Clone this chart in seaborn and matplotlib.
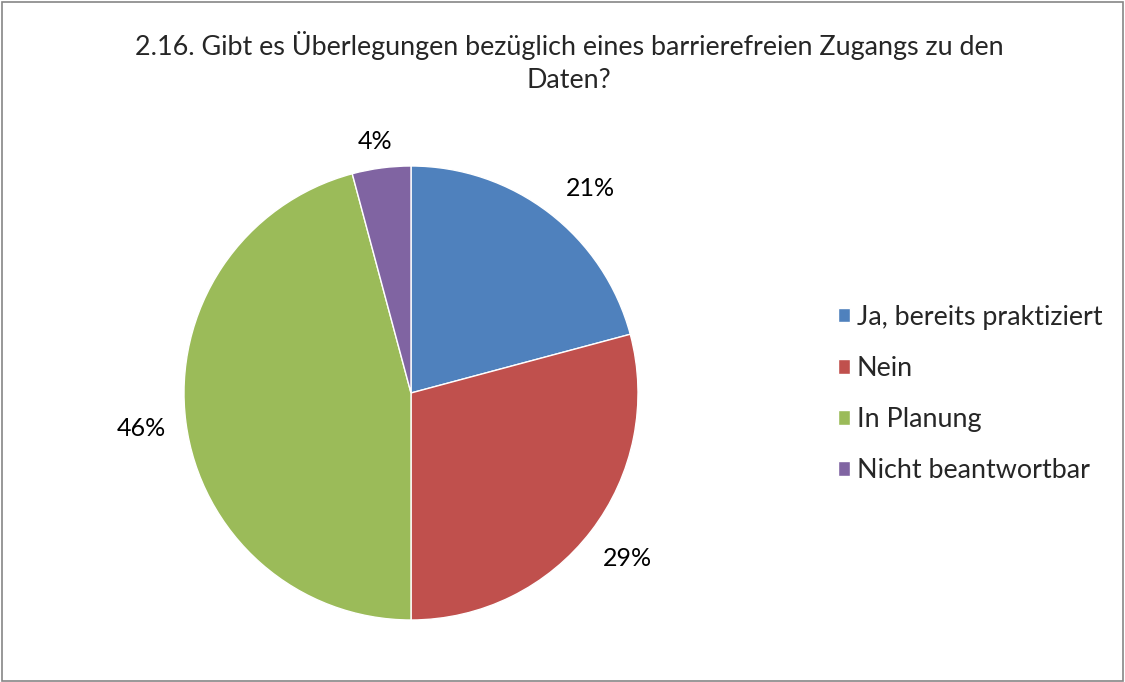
import matplotlib
matplotlib.use("Agg")
import matplotlib.pyplot as plt
import seaborn as sns
from matplotlib.patches import Rectangle

# data (answers out of 24)
categories = ["Ja, bereits praktiziert", "Nein", "In Planung", "Nicht beantwortbar"]
counts = [5, 7, 11, 1]
colors = ["#4F81BD", "#C0504D", "#9BBB59", "#8064A2"]
title = "2.16. Gibt es Überlegungen bezüglich eines barrierefreien Zugangs zu den\nDaten?"

sns.set_theme(style="white")
plt.rcParams['font.family'] = ['Lato', 'DejaVu Sans']

W, H = 1125, 682
fig = plt.figure(figsize=(W / 100, H / 100), dpi=100)

# pie centre / radius in pixels
cx, cy, r = 411, 393, 227
ax = fig.add_axes([(cx - r) / W, (H - cy - r) / H, 2 * r / W, 2 * r / H])

wedges, texts, autotexts = ax.pie(
    counts, colors=colors, startangle=90, counterclock=False,
    autopct=lambda p: f"{p:.0f}%", pctdistance=1.2, radius=1,
    wedgeprops=dict(linewidth=1, edgecolor="white"),
    textprops=dict(fontsize=18, color="#000000"))
autotexts[0].set_position((0.79, 0.9))
autotexts[3].set_position((-0.16, 1.11))
ax.set_xlim(-1, 1)
ax.set_ylim(-1, 1)
ax.set_aspect("equal")
ax.axis("off")

fig.text(569 / W, 1 - 62 / H, title, ha="center", va="center",
         fontsize=19.4, linespacing=1.45)

fig.legend(wedges, categories, loc="center left",
           bbox_to_anchor=(838 / W, 1 - 394 / H), frameon=False,
           borderpad=0, borderaxespad=0,
           fontsize=19.4, handlelength=0.45, handleheight=0.45,
           handletextpad=0.25, labelspacing=0.97)

fig.patches.append(Rectangle((0.002, 0.002), 0.996, 0.995, transform=fig.transFigure,
                             fill=False, edgecolor="#868686", linewidth=1.2))

fig.savefig("out.png", dpi=100)
